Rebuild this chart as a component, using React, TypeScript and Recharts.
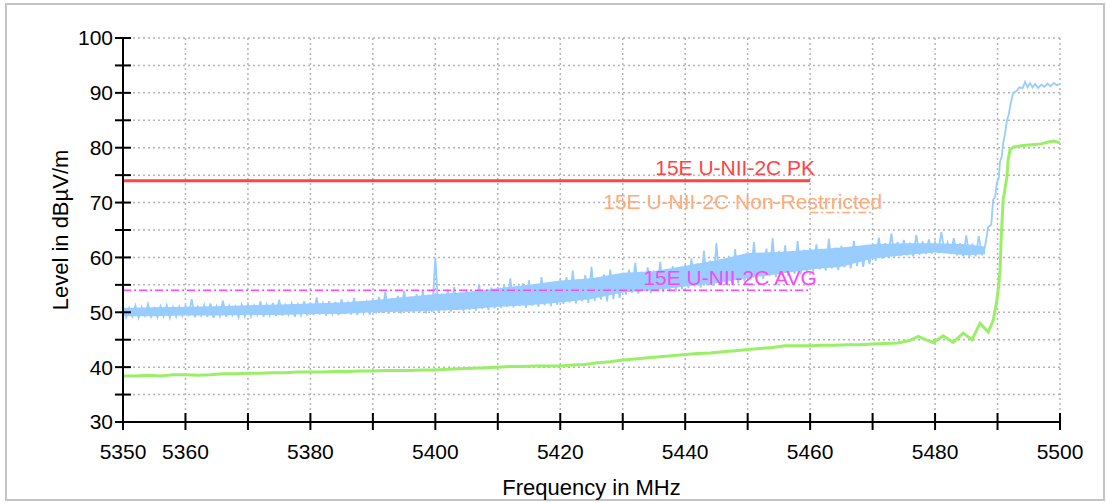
import React from "react";
import { ComposedChart, Line, Area, XAxis, YAxis, CartesianGrid, ReferenceDot, Label } from "recharts";

// peak trace (blue) in 0.5 MHz steps
const peak5350 = [
  51.0, 49.1, 50.8, 49.3, 51.2, 49.0, 50.9, 49.4, 51.5, 49.2, 50.7, 49.1, 51.1, 49.3, 51.3, 49.0, 50.9, 49.2, 51.0, 49.4,
  51.2, 49.3, 52.4, 49.1, 51.0, 49.4, 51.3, 49.2, 51.6, 49.0, 51.1, 49.3, 52.1, 49.2, 51.2, 49.5, 51.0, 49.1, 51.4, 49.3,
  51.5, 49.3, 51.2, 49.6, 52.0, 49.2, 51.4, 49.5, 51.7, 49.3, 52.3, 49.4, 51.3, 49.6, 51.6, 49.2, 51.4, 49.5, 52.0, 49.4,
  51.8, 49.5, 52.7, 49.6, 51.6, 49.4, 52.0, 49.8, 51.9, 49.5, 52.4, 49.7, 51.7, 49.6, 52.6, 49.5, 52.0, 49.9, 51.8, 49.6,
  52.3, 49.8, 52.8, 49.9, 53.8, 49.7, 52.5, 50.0, 53.0, 49.8, 53.9, 50.1, 52.8, 49.9, 53.3, 50.0, 54.0, 49.8, 53.2, 50.1,
];
const peak5400 = [
  60.0, 50.0, 53.4, 50.3, 53.9, 50.1, 54.6, 50.4, 53.6, 50.2, 54.2, 50.5, 53.8, 50.3, 55.2, 50.6, 54.0, 50.4, 54.5, 50.7,
  54.6, 50.8, 55.0, 51.0, 56.2, 50.9, 54.8, 51.1, 55.3, 50.8, 55.8, 51.2, 54.9, 51.0, 56.4, 51.3, 55.2, 51.1, 55.6, 51.4,
  56.0, 51.5, 56.4, 51.8, 57.6, 51.6, 55.9, 52.0, 56.8, 51.7, 58.3, 52.1, 56.2, 52.3, 56.9, 52.0, 57.8, 52.4, 56.5, 52.6,
  57.2, 53.2, 57.8, 53.6, 59.0, 53.4, 57.4, 53.8, 58.2, 53.5, 57.6, 53.9, 59.2, 53.7, 57.9, 54.0, 58.4, 53.8, 57.7, 54.2,
  58.6, 54.4, 59.8, 54.7, 58.9, 54.5, 61.2, 54.9, 59.4, 54.8, 62.6, 55.1, 59.6, 55.0, 60.3, 55.3, 61.5, 55.2, 60.0, 55.6,
];
const peak5450 = [
  61.0, 56.0, 62.8, 56.3, 60.7, 56.1, 61.6, 56.6, 63.5, 56.4, 61.2, 56.8, 62.2, 56.7, 61.0, 57.0, 63.0, 56.9, 61.4, 57.2,
  61.6, 57.4, 62.4, 57.8, 61.3, 57.6, 63.4, 58.0, 61.8, 57.7, 62.1, 58.2, 61.5, 58.0, 63.0, 58.4, 61.9, 58.3, 62.3, 58.8,
  62.4, 59.4, 63.6, 59.8, 62.6, 60.0, 64.4, 60.1, 62.8, 60.3, 63.2, 60.4, 62.7, 60.2, 64.1, 60.5, 62.9, 60.6, 63.3, 60.7,
  62.8, 60.8, 64.6, 60.9, 62.7, 60.6, 63.5, 60.4, 62.6, 60.2, 64.0, 60.1, 62.5, 60.2, 63.9, 60.4,
];
const peakEdge = [
  [5488, 62.0], [5488.5, 65.5], [5489, 66.0], [5489.3, 70.5], [5489.6, 71.0], [5489.9, 73.6],
  [5490.2, 74.5], [5490.4, 77.5], [5490.7, 78.5], [5490.9, 80.8], [5491.2, 82.5], [5491.5, 85.0],
  [5491.8, 86.0], [5492, 87.5], [5492.3, 89.0], [5492.5, 90.0], [5493, 90.3], [5493.5, 91.0],
  [5494, 90.8], [5494.4, 92.0], [5494.8, 91.0], [5495.2, 91.8], [5495.6, 91.0], [5496, 91.6],
  [5496.5, 90.9], [5497, 91.5], [5497.5, 91.1], [5498, 91.7], [5498.5, 91.2], [5499, 91.8],
  [5499.5, 91.4], [5500, 91.6],
];

// solid body of the peak trace: frequency, lower edge, upper edge
const peakBand = [
  [5350, 49.3, 50.8], [5355, 49.3, 50.9], [5360, 49.4, 51.0], [5365, 49.4, 51.1], [5370, 49.5, 51.3],
  [5375, 49.5, 51.4], [5380, 49.7, 51.6], [5385, 49.7, 51.8], [5390, 50.0, 52.2], [5395, 50.1, 52.8],
  [5400, 50.3, 53.3], [5405, 50.5, 53.7], [5410, 51.0, 54.4], [5415, 51.3, 55.0], [5420, 51.8, 55.8],
  [5425, 52.4, 56.2], [5430, 53.6, 57.2], [5435, 54.0, 57.5], [5440, 54.7, 58.5], [5445, 55.3, 59.5],
  [5450, 56.2, 60.8], [5455, 57.0, 61.0], [5460, 57.8, 61.4], [5465, 58.3, 61.8], [5470, 59.8, 62.4],
  [5475, 60.4, 62.6], [5480, 60.9, 62.6], [5485, 60.4, 62.4], [5488, 60.6, 62.0],
];

// average trace (green)
const avgTrace = [
  [5350, 38.4], [5352, 38.4], [5354, 38.5], [5356, 38.4], [5358, 38.6], [5360, 38.6], [5362, 38.5],
  [5364, 38.6], [5366, 38.8], [5368, 38.8], [5370, 38.9], [5372, 38.9], [5374, 39.0], [5376, 39.0],
  [5378, 39.1], [5380, 39.1], [5382, 39.1], [5384, 39.2], [5386, 39.2], [5388, 39.3], [5390, 39.3],
  [5392, 39.4], [5394, 39.4], [5396, 39.4], [5398, 39.5], [5400, 39.5], [5402, 39.6], [5404, 39.7],
  [5406, 39.8], [5408, 39.9], [5410, 40.0], [5412, 40.1], [5414, 40.1], [5416, 40.2], [5418, 40.2],
  [5420, 40.2], [5422, 40.4], [5424, 40.5], [5426, 40.8], [5428, 41.0], [5430, 41.3], [5432, 41.5],
  [5434, 41.7], [5436, 41.9], [5438, 42.1], [5440, 42.3], [5442, 42.5], [5444, 42.6], [5446, 42.8],
  [5448, 43.0], [5450, 43.2], [5452, 43.4], [5454, 43.6], [5456, 43.9], [5458, 43.9], [5460, 43.9],
  [5462, 44.0], [5464, 44.0], [5466, 44.1], [5468, 44.1], [5470, 44.2], [5472, 44.3], [5474, 44.4],
  [5476, 44.9], [5477.3, 45.6], [5478.5, 45.0], [5479.7, 44.5], [5481.3, 45.7], [5482.9, 44.5],
  [5484.5, 46.2], [5485.9, 45.0], [5487.2, 48.0], [5488.5, 46.4], [5489.3, 48.5], [5489.9, 52.2],
  [5490.2, 55.0], [5490.4, 57.7], [5490.6, 64.0], [5490.9, 70.5], [5491.2, 72.5], [5491.5, 74.7],
  [5491.7, 77.8], [5492, 79.6], [5492.5, 80.1], [5494, 80.4], [5496, 80.6], [5497, 80.7],
  [5498, 81.0], [5499, 81.2], [5500, 80.9],
];

// limit lines
const pkLimit = [[5350, 74], [5460, 74]];
const nonRestrictedLimit = [[5460, 68.2], [5470, 68.2]];
const avgLimit = [[5350, 54], [5460, 54]];

const xTicks = [5350, 5360, 5370, 5380, 5390, 5400, 5410, 5420, 5430, 5440, 5450, 5460, 5470, 5480, 5490, 5500];
const xLabels = [5350, 5360, 5380, 5400, 5420, 5440, 5460, 5480, 5500];
const yTicks = [30, 35, 40, 45, 50, 55, 60, 65, 70, 75, 80, 85, 90, 95, 100];
const yLabels = [30, 40, 50, 60, 70, 80, 90, 100];

const FONT = '"Liberation Sans", Arial, sans-serif';

const pts = (pairs: number[][]) => pairs.map(([f, v]) => ({ f, v }));
const steps = (start: number, vals: number[]) => vals.map((v, i) => ({ f: start + i * 0.5, v }));

const peakData = [
  ...steps(5350, peak5350),
  ...steps(5400, peak5400),
  ...steps(5450, peak5450),
  ...pts(peakEdge),
];
const bandData = peakBand.map(([f, lo, hi]) => ({ f, range: [lo, hi] }));

const XTick = (props: any) => {
  const { x, y, payload } = props;
  const axisY = y - 20;
  return (
    <g>
      <line x1={x} x2={x} y1={axisY - 9} y2={axisY + 8} stroke="#000" strokeWidth={2} />
      {xLabels.includes(payload.value) && (
        <text x={x} y={y + 2} dy="0.71em" textAnchor="middle" fontSize={21} fontFamily={FONT} fill="#000">
          {payload.value}
        </text>
      )}
    </g>
  );
};

const YTick = (props: any) => {
  const { x, y, payload } = props;
  const axisX = x + 10;
  return (
    <g>
      <line x1={axisX - 8} x2={axisX + 8} y1={y} y2={y} stroke="#000" strokeWidth={2} />
      {yLabels.includes(payload.value) && (
        <text x={x} y={y} dy="0.355em" textAnchor="end" fontSize={21} fontFamily={FONT} fill="#000">
          {payload.value}
        </text>
      )}
    </g>
  );
};

export default function App() {
  return (
    <div style={{ position: "absolute", left: 0, top: 0, width: 1106, height: 503, background: "#fff" }}>
      <div
        style={{
          position: "absolute",
          left: 5,
          top: 3,
          width: 1100,
          height: 498,
          border: "2px solid #c4c4c4",
          boxSizing: "border-box",
        }}
      />
      <ComposedChart
        width={1106}
        height={503}
        margin={{ top: 38, right: 46, bottom: 0, left: 0 }}
        style={{ fontFamily: FONT, position: "absolute", left: 0, top: 0 }}
      >
        <CartesianGrid stroke="#b5b5b5" strokeDasharray="2 3" strokeWidth={1.5} />
        <XAxis
          dataKey="f"
          type="number"
          domain={[5350, 5500]}
          ticks={xTicks}
          interval={0}
          allowDataOverflow
          height={81}
          tickSize={8}
          tickMargin={12}
          tickLine={false}
          axisLine={{ stroke: "#000", strokeWidth: 2 }}
          tick={<XTick />}
        >
          <Label value="Frequency in MHz" position="insideBottom" offset={8} fontSize={22} fill="#000" />
        </XAxis>
        <YAxis
          type="number"
          domain={[30, 100]}
          ticks={yTicks}
          interval={0}
          allowDataOverflow
          width={123}
          tickSize={8}
          tickMargin={2}
          tickLine={false}
          axisLine={{ stroke: "#000", strokeWidth: 2 }}
          tick={<YTick />}
        >
          <Label
            value="Level in dBµV/m"
            angle={-90}
            position="insideLeft"
            offset={60}
            fontSize={22}
            fill="#000"
            style={{ textAnchor: "middle" }}
          />
        </YAxis>
        <Area
          data={bandData}
          dataKey="range"
          stroke="none"
          fill="#99ccff"
          fillOpacity={1}
          dot={false}
          activeDot={false}
          isAnimationActive={false}
        />
        <Line data={peakData} dataKey="v" stroke="#99ccff" strokeWidth={1.8} dot={false} activeDot={false} isAnimationActive={false} />
        <Line data={pts(avgTrace)} dataKey="v" stroke="#99f066" strokeWidth={3} dot={false} activeDot={false} isAnimationActive={false} />
        <Line data={pts(pkLimit)} dataKey="v" stroke="#ff4444" strokeWidth={3} dot={false} activeDot={false} isAnimationActive={false} />
        <Line
          data={pts(nonRestrictedLimit)}
          dataKey="v"
          stroke="#ffaa77"
          strokeWidth={1.5}
          strokeDasharray="8 3 2 3"
          dot={false}
          activeDot={false}
          isAnimationActive={false}
        />
        <Line
          data={pts(avgLimit)}
          dataKey="v"
          stroke="#ff44ff"
          strokeWidth={1.5}
          strokeDasharray="8 3 2 3"
          dot={false}
          activeDot={false}
          isAnimationActive={false}
        />
        <ReferenceDot x={5448} y={76.3} r={1} fill="none" stroke="none"
          label={{ value: "15E U-NII-2C PK", position: "center", fill: "#ff4444", fontSize: 21 }} />
        <ReferenceDot x={5449.2} y={70.1} r={1} fill="none" stroke="none"
          label={{ value: "15E U-NII-2C Non-Restrricted", position: "center", fill: "#ffaa77", fontSize: 21 }} />
        <ReferenceDot x={5447.2} y={56.3} r={1} fill="none" stroke="none"
          label={{ value: "15E U-NII-2C AVG", position: "center", fill: "#ff44ff", fontSize: 21 }} />
      </ComposedChart>
    </div>
  );
}
